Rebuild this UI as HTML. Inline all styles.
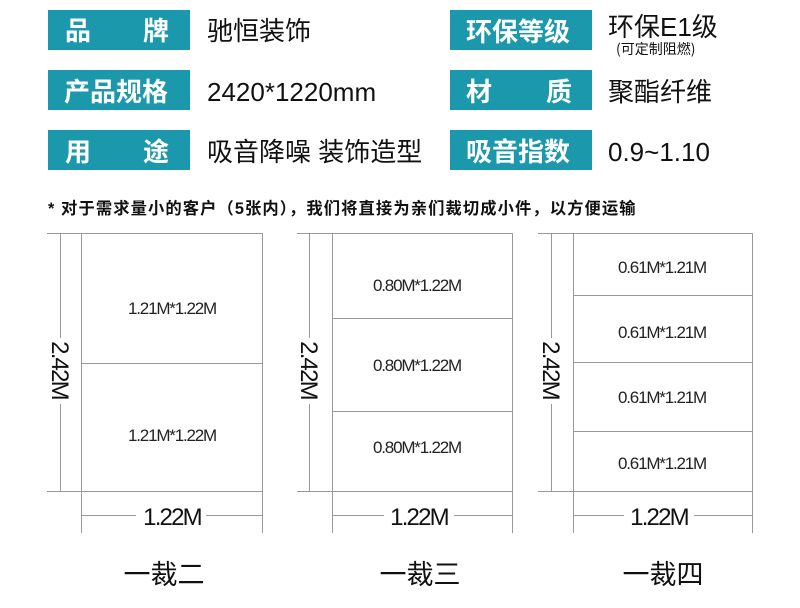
<!DOCTYPE html>
<html><head><meta charset="utf-8"><style>
body{margin:0;background:#fff;width:800px;height:608px;overflow:hidden}
svg{display:block}
</style></head><body>
<svg width="800" height="608" xmlns="http://www.w3.org/2000/svg" font-family="Liberation Sans, Noto Sans CJK SC, sans-serif">
<g fill="#1b98ac">
<rect x="48" y="10" width="142" height="40"/><rect x="48" y="70" width="142" height="40"/><rect x="48" y="130" width="142" height="40"/>
<rect x="450" y="10" width="142" height="40"/><rect x="450" y="70" width="142" height="40"/><rect x="450" y="130" width="142" height="40"/>
</g>
<g fill="#fff" font-size="26" font-weight="bold" font-family="Noto Sans CJK SC, sans-serif">
<text x="65" y="40">品</text><text x="143" y="40">牌</text>
<text x="64" y="101">产品规格</text>
<text x="65" y="161">用</text><text x="143" y="161">途</text>
<text x="466" y="41">环保等级</text>
<text x="466" y="101">材</text><text x="546" y="101">质</text>
<text x="466" y="161">吸音指数</text>
</g>
<g fill="#111" font-size="26" font-family="Liberation Sans, Noto Sans CJK SC, sans-serif">
<text x="207" y="40">驰恒装饰</text>
<text x="207" y="101">2420*1220mm</text>
<text x="207" y="161">吸音降噪 装饰造型</text>
<text x="608" y="36">环保E1级</text>
<text x="608" y="101">聚酯纤维</text>
<text x="608" y="161">0.9~1.10</text>
</g>
<text x="616" y="54" font-size="14" fill="#111" font-family="Noto Sans CJK SC, sans-serif">(可定制阻燃)</text>
<text x="48" y="214" font-size="16.3" fill="#111" font-weight="bold" letter-spacing="1.1" font-family="Liberation Sans, Noto Sans CJK SC, sans-serif">* 对于需求量小的客户（5张内），我们将直接为亲们裁切成小件，以方便运输</text>

<g stroke="#999" stroke-width="1" fill="none">
<rect x="81.5" y="233.5" width="181" height="258"/>
<line x1="81" y1="363.5" x2="262" y2="363.5"/>
<line x1="60.5" y1="233" x2="60.5" y2="491"/>
<line x1="47" y1="233.5" x2="81" y2="233.5"/><line x1="47" y1="491.5" x2="81" y2="491.5"/>
<line x1="81.5" y1="491" x2="81.5" y2="533"/><line x1="262.5" y1="491" x2="262.5" y2="533"/>
<line x1="81" y1="515.5" x2="262" y2="515.5"/>
<rect x="332.5" y="233.5" width="180" height="258"/>
<line x1="332" y1="318.5" x2="512" y2="318.5"/><line x1="332" y1="411.5" x2="512" y2="411.5"/>
<line x1="309.5" y1="233" x2="309.5" y2="491"/>
<line x1="297" y1="233.5" x2="332" y2="233.5"/><line x1="297" y1="491.5" x2="332" y2="491.5"/>
<line x1="332.5" y1="491" x2="332.5" y2="533"/><line x1="512.5" y1="491" x2="512.5" y2="533"/>
<line x1="332" y1="515.5" x2="512" y2="515.5"/>
<rect x="573.5" y="233.5" width="179" height="258"/>
<line x1="573" y1="295.5" x2="753" y2="295.5"/><line x1="573" y1="362.5" x2="753" y2="362.5"/><line x1="573" y1="431.5" x2="753" y2="431.5"/>
<line x1="551.5" y1="233" x2="551.5" y2="491"/>
<line x1="538" y1="233.5" x2="573" y2="233.5"/><line x1="538" y1="491.5" x2="573" y2="491.5"/>
<line x1="573.5" y1="491" x2="573.5" y2="533"/><line x1="752.5" y1="491" x2="752.5" y2="533"/>
<line x1="573" y1="515.5" x2="753" y2="515.5"/>
</g>

<g font-size="17" fill="#222" text-anchor="middle" letter-spacing="-1.2">
<text x="172" y="314">1.21M*1.22M</text><text x="172" y="441">1.21M*1.22M</text>
<text x="417" y="291">0.80M*1.22M</text><text x="417" y="371">0.80M*1.22M</text><text x="417" y="453">0.80M*1.22M</text>
<text x="662" y="273">0.61M*1.21M</text><text x="662" y="338">0.61M*1.21M</text><text x="662" y="403">0.61M*1.21M</text><text x="662" y="469">0.61M*1.21M</text>
</g>

<g font-size="24" fill="#111" text-anchor="middle" letter-spacing="-1.8">
<rect x="48" y="338" width="24" height="66" fill="#fff"/>
<text transform="translate(52,370) rotate(90)">2.42M</text>
<rect x="297" y="338" width="24" height="66" fill="#fff"/>
<text transform="translate(301,370) rotate(90)">2.42M</text>
<rect x="539" y="338" width="24" height="66" fill="#fff"/>
<text transform="translate(543,370) rotate(90)">2.42M</text>
<rect x="136" y="503" width="70" height="26" fill="#fff"/>
<text x="172" y="525">1.22M</text>
<rect x="384" y="503" width="70" height="26" fill="#fff"/>
<text x="419" y="525">1.22M</text>
<rect x="624" y="503" width="70" height="26" fill="#fff"/>
<text x="659" y="525">1.22M</text>
</g>

<g font-size="27" fill="#111" text-anchor="middle" font-family="Noto Sans CJK SC, sans-serif">
<text x="164" y="584">一裁二</text>
<text x="420" y="584">一裁三</text>
<text x="663" y="584">一裁四</text>
</g>
</svg>
</body></html>
